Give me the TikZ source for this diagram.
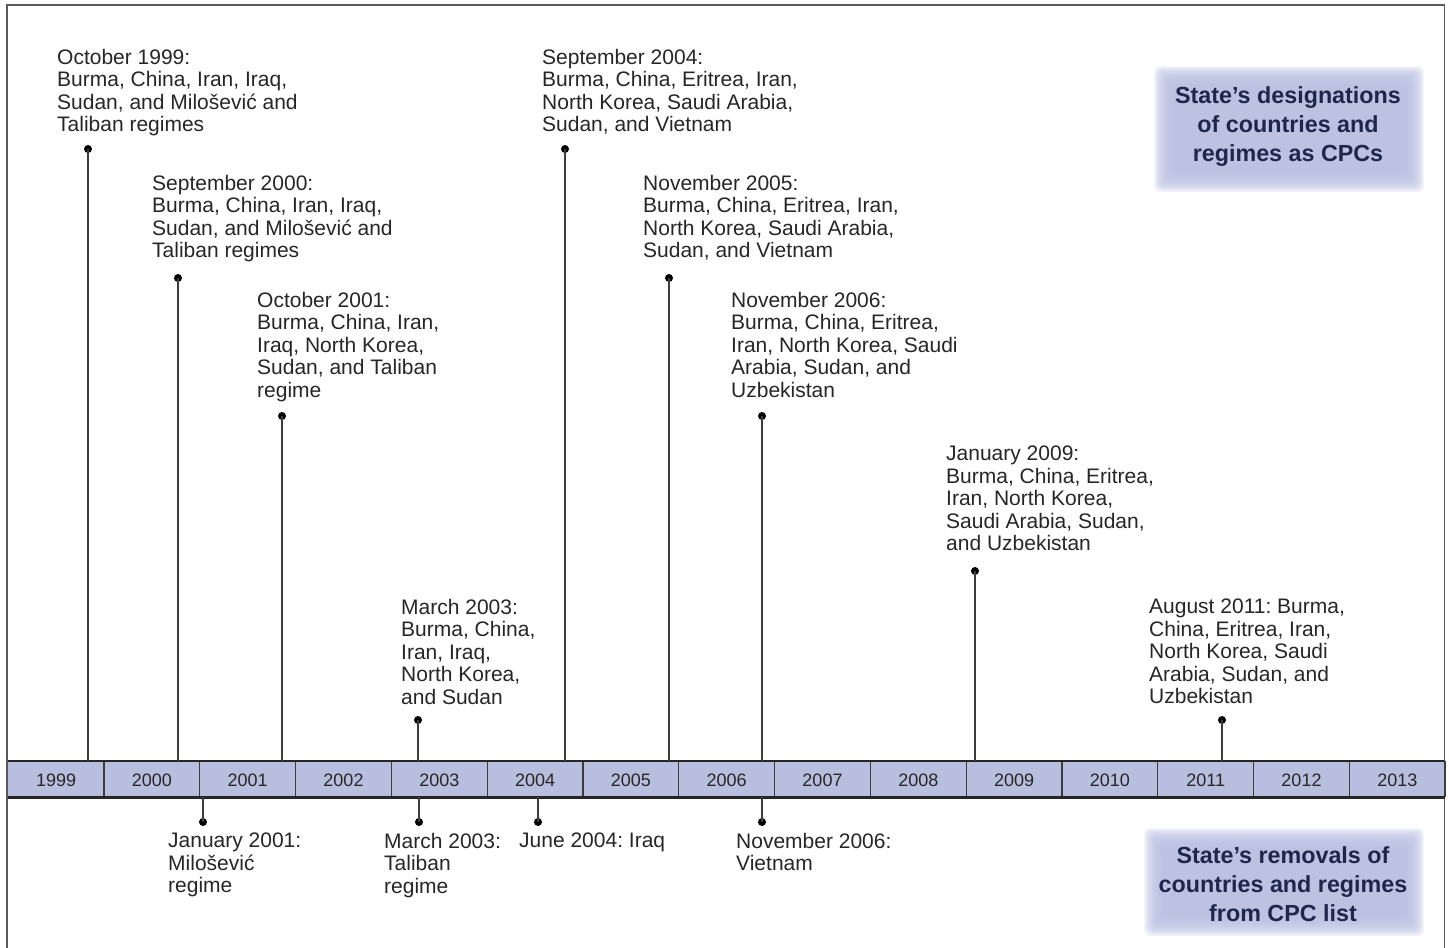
\documentclass[tikz,border=0pt]{standalone}
\usepackage{fontspec}
\setmainfont{Liberation Sans}
\frenchspacing
\definecolor{txtcol}{RGB}{38,38,38}
\definecolor{linecol}{RGB}{60,60,60}
\definecolor{barcol}{RGB}{184,190,222}
\definecolor{boxcol}{RGB}{186,192,226}
\definecolor{navy}{RGB}{30,38,75}
\definecolor{bordercol}{RGB}{90,90,90}
\begin{document}
\begin{tikzpicture}[x=1pt,y=-1pt,
  lbl/.style={anchor=north west, align=left, inner sep=0pt, text=txtcol,
              font=\fontsize{21}{22.5}\selectfont},
  dot/.style={circle, fill=black, inner sep=0pt, minimum size=8pt},
  stem/.style={draw=linecol, line width=1.3pt},
  yearlbl/.style={inner sep=0pt, text=txtcol, font=\fontsize{18}{20}\selectfont},
  divider/.style={draw=linecol, line width=1.2pt},
  boxtext/.style={align=center, inner sep=0pt, text=navy,
              font=\bfseries\fontsize{23.3}{29}\selectfont}]
\useasboundingbox (0,0) rectangle (1449,948);
% outer frame
\draw[bordercol, line width=1.6pt] (7,950) -- (7,5) -- (1444.5,5) -- (1444.5,950);

% soft boxes
\foreach \k in {-10,...,10}
  \fill[boxcol, opacity=0.14, rounded corners=6pt]
    (1164-\k,76-\k) rectangle (1414+\k,182+\k);
\foreach \k in {-10,...,10}
  \fill[boxcol, opacity=0.14, rounded corners=6pt]
    (1154-\k,838-\k) rectangle (1414+\k,926+\k);
\node[boxtext] (boxA) at (1288,127) {State’s designations\\of countries and\\regimes as CPCs};
\node[boxtext] (boxB) at (1283,884) {State’s removals of\\countries and regimes\\from CPC list};

% timeline bar
\node[fill=barcol, inner sep=0pt, minimum width=1437pt, minimum height=36pt, anchor=north west]
  (bar) at (7.5,761) {};
\foreach \i in {1,...,14}
  \draw[divider] ({8.2+95.8*\i},761) -- ++(0,36);
\draw[black!85, line width=2.6pt] (bar.north west) -- (bar.north east);
\draw[black!85, line width=2.6pt] (bar.south west) -- (bar.south east);
\draw[divider] (bar.north east) -- (bar.south east);
\foreach \yr [count=\i from 0] in {1999,...,2013}
  \node[yearlbl] (y\yr) at ({8.2+95.8*\i+47.9},780) {\yr};

% designations (above)
\node[lbl] (a1) at (57,49) {October 1999:\\Burma, China, Iran, Iraq,\\Sudan, and Milošević and\\Taliban regimes};
\node[lbl] (a2) at (152,175) {September 2000:\\Burma, China, Iran, Iraq,\\Sudan, and Milošević and\\Taliban regimes};
\node[lbl] (a3) at (257,292) {October 2001:\\Burma, China, Iran,\\Iraq, North Korea,\\Sudan, and Taliban\\regime};
\node[lbl] (a4) at (401,599) {March 2003:\\Burma, China,\\Iran, Iraq,\\North Korea,\\and Sudan};
\node[lbl] (a5) at (542,49) {September 2004:\\Burma, China, Eritrea, Iran,\\North Korea, Saudi Arabia,\\Sudan, and Vietnam};
\node[lbl] (a6) at (643,175) {November 2005:\\Burma, China, Eritrea, Iran,\\North Korea, Saudi Arabia,\\Sudan, and Vietnam};
\node[lbl] (a7) at (731,292) {November 2006:\\Burma, China, Eritrea,\\Iran, North Korea, Saudi\\Arabia, Sudan, and\\Uzbekistan};
\node[lbl] (a8) at (946,446) {January 2009:\\Burma, China, Eritrea,\\Iran, North Korea,\\Saudi Arabia, Sudan,\\and Uzbekistan};
\node[lbl] (a9) at (1149,599) {August 2011: Burma,\\China, Eritrea, Iran,\\North Korea, Saudi\\Arabia, Sudan, and\\Uzbekistan};

\node[dot] (da1) at (88,149) {};
\node[dot] (da2) at (178,278) {};
\node[dot] (da3) at (282,416) {};
\node[dot] (da4) at (418,720) {};
\node[dot] (da5) at (565,149) {};
\node[dot] (da6) at (669,278) {};
\node[dot] (da7) at (762,416) {};
\node[dot] (da8) at (975,571) {};
\node[dot] (da9) at (1222,720) {};
\foreach \n in {1,...,9}
  \draw[stem] (da\n.center) -- (da\n.center |- bar.north);

% removals (below)
\node[lbl] (b1) at (168,833) {January 2001:\\Milošević\\regime};
\node[lbl] (b2) at (384,833) {March 2003:\\Taliban\\regime};
\node[lbl] (b3) at (519,833) {June 2004: Iraq};
\node[lbl] (b4) at (736,833) {November 2006:\\Vietnam};

\node[dot] (db1) at (203,822) {};
\node[dot] (db2) at (419,822) {};
\node[dot] (db3) at (538,822) {};
\node[dot] (db4) at (762,822) {};
\foreach \n in {1,...,4}
  \draw[stem] (db\n.center) -- (db\n.center |- bar.south);
\end{tikzpicture}
\end{document}
